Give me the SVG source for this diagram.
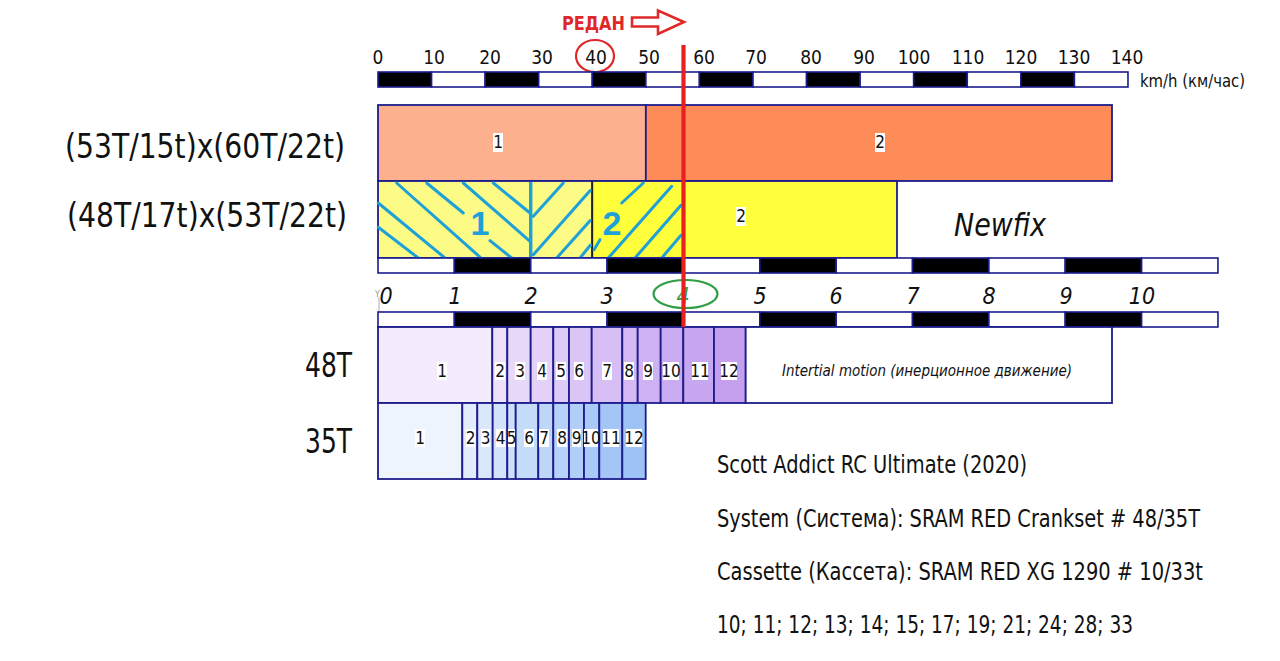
<svg xmlns="http://www.w3.org/2000/svg" width="1280" height="661" viewBox="0 0 1280 661">
<style>
.t{font-family:"Liberation Sans Narrow","DejaVu Sans Condensed","Liberation Sans",sans-serif;fill:#111}
.it{font-style:italic}
.sb{stroke:#1c1c8c;stroke-width:1.6}
.seg{stroke:#1c1c8c;stroke-width:1.8}
.w{fill:#fff}
.k{fill:#000}
.hat{stroke:#1ea0d8;stroke-width:3;fill:none;stroke-linecap:round}
.num{font-size:17px;text-anchor:middle}
.bg{fill:#fff}
.sc{font-size:19px;text-anchor:middle}
.gn{font-size:23px;text-anchor:middle;font-style:italic}
.lbl{font-size:34px}
.info{font-size:24px}
</style>
<rect width="1280" height="661" fill="#fff"/>

<g id="redan">
<text class="t" x="562" y="30" font-size="20" font-weight="bold" fill="#e02828" style="fill:#e02828" textLength="63" lengthAdjust="spacingAndGlyphs">РЕДАН</text>
<polygon points="632,17.5 658,17.5 658,10.5 684,22 658,34 658,26.5 632,26.5" fill="#fff" stroke="#e02828" stroke-width="2.6"/>
</g>

<g id="speed-scale">
<g class="t sc">
<text x="378" y="64">0</text><text x="434" y="64">10</text><text x="490" y="64">20</text><text x="542" y="64">30</text><text x="596" y="64">40</text><text x="649" y="64">50</text><text x="704" y="64">60</text><text x="756" y="64">70</text><text x="811" y="64">80</text><text x="864" y="64">90</text><text x="914" y="64">100</text><text x="968" y="64">110</text><text x="1021" y="64">120</text><text x="1074" y="64">130</text><text x="1127" y="64">140</text>
</g>
<ellipse cx="595" cy="56" rx="19" ry="16" fill="none" stroke="#e02828" stroke-width="2.2"/>
<g class="sb">
<rect x="378" y="72" width="53.57" height="15" class="k"/>
<rect x="431.57" y="72" width="53.57" height="15" class="w"/>
<rect x="485.14" y="72" width="53.57" height="15" class="k"/>
<rect x="538.71" y="72" width="53.57" height="15" class="w"/>
<rect x="592.28" y="72" width="53.57" height="15" class="k"/>
<rect x="645.85" y="72" width="53.57" height="15" class="w"/>
<rect x="699.42" y="72" width="53.57" height="15" class="k"/>
<rect x="752.99" y="72" width="53.57" height="15" class="w"/>
<rect x="806.56" y="72" width="53.57" height="15" class="k"/>
<rect x="860.13" y="72" width="53.57" height="15" class="w"/>
<rect x="913.7" y="72" width="53.57" height="15" class="k"/>
<rect x="967.27" y="72" width="53.57" height="15" class="w"/>
<rect x="1020.84" y="72" width="53.57" height="15" class="k"/>
<rect x="1074.41" y="72" width="53.57" height="15" class="w"/>
</g>
<text class="t" x="1140" y="87" font-size="17" textLength="105" lengthAdjust="spacingAndGlyphs">km/h (км/час)</text>
</g>

<g id="bar-53T">
<rect x="378" y="105" width="267.85" height="76" fill="#fdb08e" class="seg"/>
<rect x="645.85" y="105" width="466.15" height="76" fill="#fe8c58" class="seg"/>
<rect x="493" y="133" width="10" height="19" class="bg"/>
<text class="t num" x="498" y="148">1</text>
<rect x="875" y="133" width="10" height="19" class="bg"/>
<text class="t num" x="880" y="148">2</text>
<text class="t lbl" x="65" y="158" textLength="280" lengthAdjust="spacingAndGlyphs">(53T/15t)x(60T/22t)</text>
</g>

<g id="bar-48T17t">
<rect x="378" y="181" width="214.28" height="77" fill="#fbfb86" class="seg"/>
<rect x="592.28" y="181" width="304.72" height="77" fill="#ffff3c" class="seg"/>
<line x1="592.28" y1="181" x2="592.28" y2="258" stroke="#222" stroke-width="1.4"/>
<g class="hat">
<line x1="378.3" y1="227.3" x2="418.3" y2="258"/>
<line x1="378.3" y1="203" x2="445" y2="258"/>
<line x1="396.7" y1="183" x2="481" y2="258"/>
<line x1="426.7" y1="183" x2="463.3" y2="213"/>
<line x1="490" y1="240.7" x2="511.7" y2="258"/>
<line x1="463.3" y1="183" x2="530" y2="241.3"/>
<line x1="493.3" y1="183" x2="530" y2="213"/>
<line x1="533.3" y1="216.3" x2="563.3" y2="183"/>
<line x1="533.3" y1="254.7" x2="590" y2="190.7"/>
<line x1="556.7" y1="258" x2="590" y2="220.7"/>
<line x1="580" y1="258" x2="590.5" y2="245"/>
<line x1="594" y1="249.7" x2="600" y2="239.7"/>
<line x1="608.3" y1="258" x2="671.7" y2="186.3"/>
<line x1="621.7" y1="203" x2="643.3" y2="183"/>
<line x1="635" y1="258" x2="681" y2="205.3"/>
<line x1="661.7" y1="258" x2="681" y2="235.3"/>
</g>
<line x1="530.7" y1="182" x2="530.7" y2="262" stroke="#1ea0d8" stroke-width="3.4"/>
<text x="480" y="235" font-family="Liberation Sans,Arial,sans-serif" font-weight="bold" font-size="34" fill="#1ea0d8" text-anchor="middle">1</text>
<text x="612" y="235" font-family="Liberation Sans,Arial,sans-serif" font-weight="bold" font-size="34" fill="#1ea0d8" text-anchor="middle">2</text>
<rect x="736" y="207" width="10" height="19" class="bg"/>
<text class="t num" x="741" y="222">2</text>
<text class="t it" x="954" y="236" font-size="32" textLength="92" lengthAdjust="spacingAndGlyphs">Newfix</text>
<text class="t lbl" x="67" y="227" textLength="280" lengthAdjust="spacingAndGlyphs">(48T/17t)x(53T/22t)</text>
</g>

<g id="gear-scale">
<g class="sb">
<rect x="378" y="258" width="76.36" height="15" class="w"/>
<rect x="454.36" y="258" width="76.36" height="15" class="k"/>
<rect x="530.72" y="258" width="76.36" height="15" class="w"/>
<rect x="607.08" y="258" width="76.36" height="15" class="k"/>
<rect x="683.44" y="258" width="76.36" height="15" class="w"/>
<rect x="759.8" y="258" width="76.36" height="15" class="k"/>
<rect x="836.16" y="258" width="76.36" height="15" class="w"/>
<rect x="912.52" y="258" width="76.36" height="15" class="k"/>
<rect x="988.88" y="258" width="76.36" height="15" class="w"/>
<rect x="1065.24" y="258" width="76.36" height="15" class="k"/>
<rect x="1141.6" y="258" width="76.36" height="15" class="w"/>
</g>
<g class="t gn">
<text x="386" y="304">0</text><text x="455" y="304">1</text><text x="531" y="304">2</text><text x="607" y="304">3</text>
<text x="683" y="304" style="fill:#3e9a3e">4</text>
<text x="760" y="304">5</text><text x="836" y="304">6</text><text x="913" y="304">7</text><text x="989" y="304">8</text><text x="1066" y="304">9</text><text x="1142" y="304">10</text>
</g>
<ellipse cx="685.5" cy="294" rx="32" ry="14" fill="none" stroke="#2f9e44" stroke-width="2.2"/>
<g stroke="#999" stroke-width="0.8" fill="none">
<line x1="379" y1="297" x2="379" y2="325"/>
<line x1="379" y1="325" x2="404" y2="325"/>
</g>
<text x="375" y="297" font-family="DejaVu Sans,sans-serif" font-size="8" fill="#999">Y</text>
<text x="405" y="326" font-family="DejaVu Sans,sans-serif" font-size="8" fill="#999">X</text>
<g class="sb">
<rect x="378" y="312" width="76.36" height="15" class="w"/>
<rect x="454.36" y="312" width="76.36" height="15" class="k"/>
<rect x="530.72" y="312" width="76.36" height="15" class="w"/>
<rect x="607.08" y="312" width="76.36" height="15" class="k"/>
<rect x="683.44" y="312" width="76.36" height="15" class="w"/>
<rect x="759.8" y="312" width="76.36" height="15" class="k"/>
<rect x="836.16" y="312" width="76.36" height="15" class="w"/>
<rect x="912.52" y="312" width="76.36" height="15" class="k"/>
<rect x="988.88" y="312" width="76.36" height="15" class="w"/>
<rect x="1065.24" y="312" width="76.36" height="15" class="k"/>
<rect x="1141.6" y="312" width="76.36" height="15" class="w"/>
</g>
</g>

<g id="chainring-48T">
<rect x="378" y="327" width="114.3" height="76" fill="#f4ecfc" class="seg"/>
<rect x="492.3" y="327" width="15" height="76" fill="#ede1fa" class="seg"/>
<rect x="507.3" y="327" width="23.4" height="76" fill="#e8d9f9" class="seg"/>
<rect x="530.7" y="327" width="22.6" height="76" fill="#e3d1f8" class="seg"/>
<rect x="553.3" y="327" width="15.7" height="76" fill="#dfcbf7" class="seg"/>
<rect x="569" y="327" width="22.7" height="76" fill="#dbc5f6" class="seg"/>
<rect x="591.7" y="327" width="30.6" height="76" fill="#d7bff5" class="seg"/>
<rect x="622.3" y="327" width="15.4" height="76" fill="#d3b8f4" class="seg"/>
<rect x="637.7" y="327" width="23" height="76" fill="#cfb2f3" class="seg"/>
<rect x="660.7" y="327" width="22.6" height="76" fill="#cbacf2" class="seg"/>
<rect x="683.3" y="327" width="30.7" height="76" fill="#c8a7f1" class="seg"/>
<rect x="714" y="327" width="31.7" height="76" fill="#c4a0ef" class="seg"/>
<rect x="745.7" y="327" width="366.3" height="76" fill="#fff" class="seg"/>
<g>
<rect x="437" y="362" width="10" height="18" class="bg"/><rect x="495" y="362" width="10" height="18" class="bg"/><rect x="515" y="362" width="10" height="18" class="bg"/><rect x="537" y="362" width="10" height="18" class="bg"/><rect x="556" y="362" width="10" height="18" class="bg"/><rect x="574" y="362" width="10" height="18" class="bg"/><rect x="602" y="362" width="10" height="18" class="bg"/><rect x="624" y="362" width="10" height="18" class="bg"/><rect x="643" y="362" width="10" height="18" class="bg"/><rect x="663" y="362" width="16" height="18" class="bg"/><rect x="692" y="362" width="16" height="18" class="bg"/><rect x="721" y="362" width="16" height="18" class="bg"/>
</g>
<g class="t num">
<text x="442" y="377">1</text><text x="500" y="377">2</text><text x="520" y="377">3</text><text x="542" y="377">4</text><text x="561" y="377">5</text><text x="579" y="377">6</text><text x="607" y="377">7</text><text x="629" y="377">8</text><text x="648" y="377">9</text><text x="671" y="377">10</text><text x="700" y="377">11</text><text x="729" y="377">12</text>
</g>
<text class="t it" x="782" y="376" font-size="15" textLength="290" lengthAdjust="spacingAndGlyphs">Intertial motion (инерционное движение)</text>
<text class="t lbl" x="305" y="377" textLength="47" lengthAdjust="spacingAndGlyphs">48T</text>
</g>

<g id="chainring-35T">
<rect x="378" y="403" width="84.3" height="76" fill="#edf4fd" class="seg"/>
<rect x="462.3" y="403" width="15" height="76" fill="#e2ecfc" class="seg"/>
<rect x="477.3" y="403" width="15.4" height="76" fill="#dbe8fc" class="seg"/>
<rect x="492.7" y="403" width="14.6" height="76" fill="#d3e3fb" class="seg"/>
<rect x="507.3" y="403" width="8.4" height="76" fill="#cce0fb" class="seg"/>
<rect x="515.7" y="403" width="22.6" height="76" fill="#c5dbfa" class="seg"/>
<rect x="538.3" y="403" width="15" height="76" fill="#bed7f9" class="seg"/>
<rect x="553.3" y="403" width="15.7" height="76" fill="#b7d2f9" class="seg"/>
<rect x="569" y="403" width="15" height="76" fill="#b0cef8" class="seg"/>
<rect x="584" y="403" width="15.3" height="76" fill="#a9c9f7" class="seg"/>
<rect x="599.3" y="403" width="23" height="76" fill="#a4c6f7" class="seg"/>
<rect x="622.3" y="403" width="23.4" height="76" fill="#9cc2f6" class="seg"/>
<g>
<rect x="415" y="429" width="10" height="18" class="bg"/><rect x="466" y="429" width="9" height="18" class="bg"/><rect x="481" y="429" width="9" height="18" class="bg"/><rect x="496" y="429" width="9" height="18" class="bg"/><rect x="508" y="429" width="7" height="18" class="bg"/><rect x="524" y="429" width="10" height="18" class="bg"/><rect x="539" y="429" width="10" height="18" class="bg"/><rect x="557" y="429" width="10" height="18" class="bg"/><rect x="572" y="429" width="9" height="18" class="bg"/><rect x="584" y="429" width="14" height="18" class="bg"/><rect x="603" y="429" width="16" height="18" class="bg"/><rect x="626" y="429" width="16" height="18" class="bg"/>
</g>
<g class="t num">
<text x="420" y="444">1</text><text x="470.5" y="444">2</text><text x="485.5" y="444">3</text><text x="500.5" y="444">4</text><text x="511.7" y="444">5</text><text x="529" y="444">6</text><text x="544" y="444">7</text><text x="562" y="444">8</text><text x="576.7" y="444">9</text><text x="591" y="444">10</text><text x="611" y="444">11</text><text x="634" y="444">12</text>
</g>
<text class="t lbl" x="305" y="453" textLength="47" lengthAdjust="spacingAndGlyphs">35T</text>
</g>

<g id="connectors">
<line x1="683.5" y1="45" x2="683.5" y2="327" stroke="#e82020" stroke-width="4.2"/>
</g>

<g id="info">
<text class="t info" x="717" y="473" textLength="310" lengthAdjust="spacingAndGlyphs">Scott Addict RC Ultimate (2020)</text>
<text class="t info" x="717" y="527" textLength="483" lengthAdjust="spacingAndGlyphs">System (Система): SRAM RED Crankset # 48/35T</text>
<text class="t info" x="717" y="580" textLength="486" lengthAdjust="spacingAndGlyphs">Cassette (Кассета): SRAM RED XG 1290 # 10/33t</text>
<text class="t info" x="717" y="633" textLength="416" lengthAdjust="spacingAndGlyphs">10; 11; 12; 13; 14; 15; 17; 19; 21; 24; 28; 33</text>
</g>
</svg>
